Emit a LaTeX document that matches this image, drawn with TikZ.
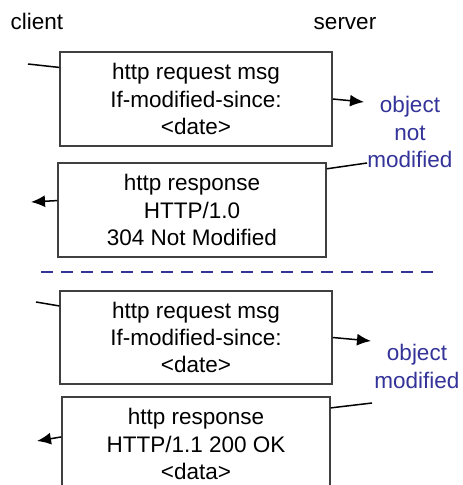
\documentclass[tikz,border=0pt]{standalone}
\usepackage{fontspec}
\setmainfont{Liberation Sans}
\usetikzlibrary{positioning}
\usetikzlibrary{calc}
\usetikzlibrary{arrows.meta}

\definecolor{noteblue}{RGB}{51,51,153}
\definecolor{boxgray}{RGB}{64,64,64}

\begin{document}
\begin{tikzpicture}[x=1pt,y=-1pt,
  font=\fontsize{22.5}{27.3}\selectfont,
  msgbox/.style={draw=boxgray, line width=1.5pt, inner sep=0pt, align=center},
  note/.style={text=noteblue, align=center, inner sep=0pt},
  msgline/.style={line width=1.5pt},
  msgarrow/.style={line width=1.5pt, -{Latex[length=14pt,width=12pt]}}]
\useasboundingbox (0,0) rectangle (463,485);
\clip (0,0) rectangle (463,485);

\node[anchor=base, inner sep=0pt](client) at (37,29){client};
\node[anchor=base, inner sep=0pt](server) at (345,29){server};

% not modified
\node[msgbox, minimum width=272pt, minimum height=94pt](req1) at (196,99)
  {http request msg\\If-modified-since:\\<date>};
\node[msgbox, minimum width=268pt, minimum height=94pt](resp1) at (192,210)
  {http response\\HTTP/1.0\\304 Not Modified};
\node[note](nomod) at (410,132){object\\not\\modified};

\coordinate (inA) at (28,64);
\coordinate (outA) at (364,102);
\coordinate (backA) at (367,163);
\coordinate (endA) at (31,202);

\draw[dashed, noteblue, line width=2.5pt, dash pattern=on 12pt off 8pt] (41,272) -- (433,272);

% modified
\node[msgbox, minimum width=272pt, minimum height=93pt](req2) at (196,337.5)
  {http request msg\\If-modified-since:\\<date>};
\node[msgbox, minimum width=268pt, minimum height=94pt](resp2) at (196,444)
  {http response\\HTTP/1.1 200 OK\\<data>};
\node[note](mod) at (417,366.5){object\\modified};

\coordinate (inB) at (36,302);
\coordinate (outB) at (371,341);
\coordinate (backB) at (372,403);
\coordinate (endB) at (37,441);

\path
(inA) edge[msgline] (req1.167)
(req1.east) edge[msgarrow] (outA)
(backA) edge[msgline] (resp1.17)
(resp1.176) edge[msgarrow] (endA)
(inB) edge[msgline] (req2.167)
(req2.east) edge[msgarrow] (outB)
(backB) edge[msgline] (resp2.15)
(resp2.177) edge[msgarrow] (endB);
\end{tikzpicture}
\end{document}
